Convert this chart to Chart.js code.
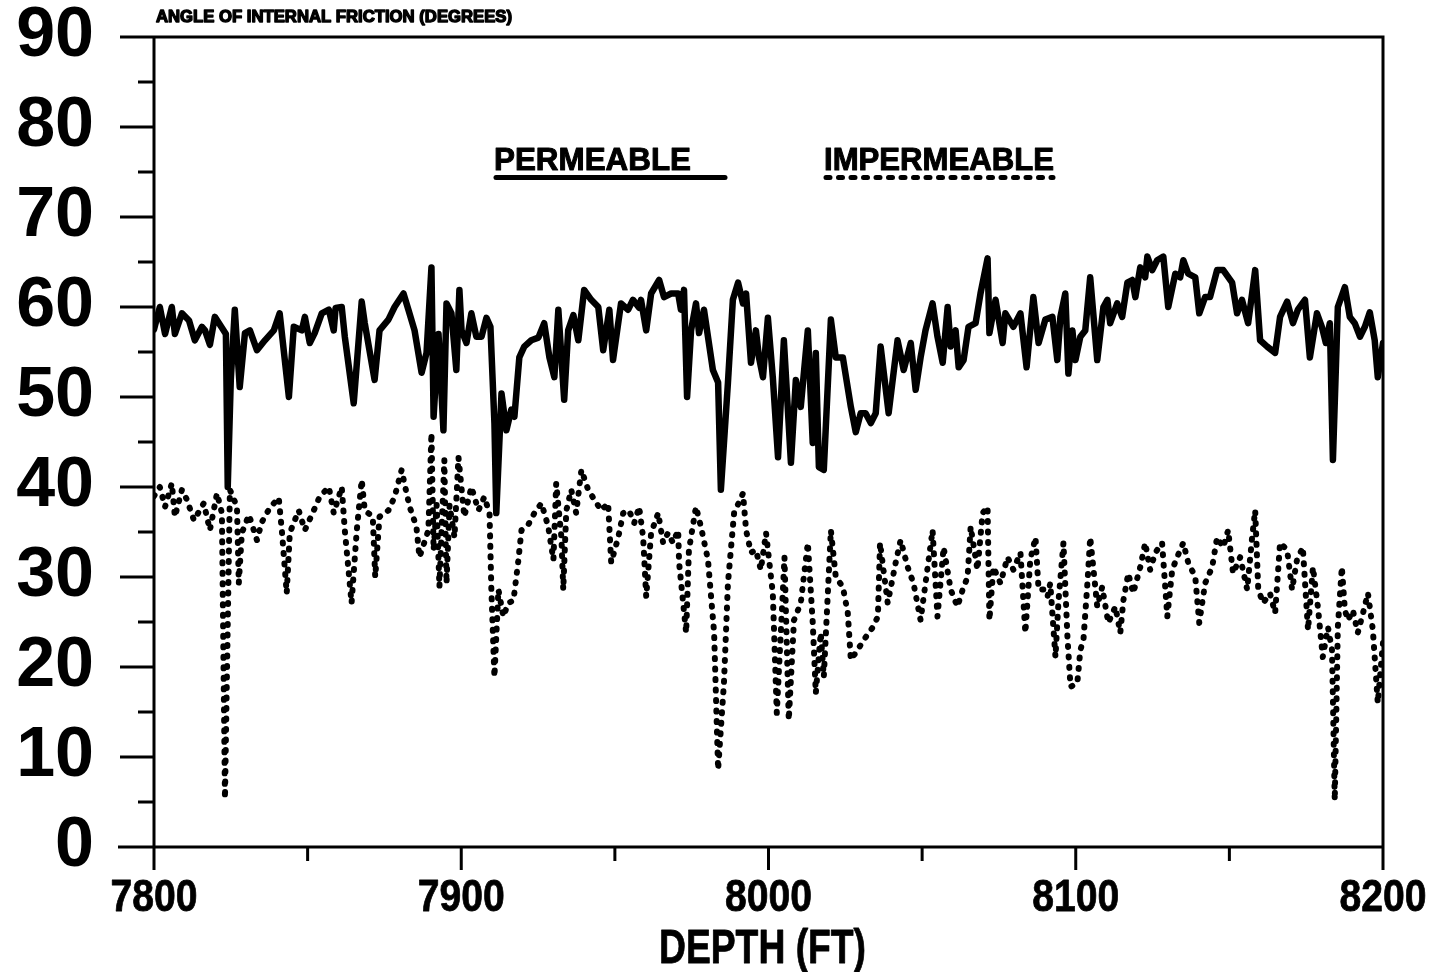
<!DOCTYPE html>
<html>
<head>
<meta charset="utf-8">
<title>Angle of internal friction vs depth</title>
<script src="https://cdn.jsdelivr.net/npm/chart.js@4.4.1/dist/chart.umd.min.js"></script>
<style>
  html, body { margin: 0; padding: 0; background: #fff; }
  #wrap { width: 1438px; height: 972px; }
</style>
</head>
<body>
<div id="wrap"><canvas id="c" width="1438" height="972"></canvas></div>
<script>
// Permeable log: depth (ft) and angle of internal friction (degrees)
const depthPerm = [7800,7801.9,7803.6,7805.8,7806.8,7809.1,7811.4,7813.3,7815.6,7816.6,
  7818.2,7819.8,7822.1,7823.4,7824.0,7825.0,7826.3,7827.9,7829.6,7831.2,
  7833.5,7836.1,7839.0,7840.9,7843.9,7845.5,7848.1,7849.1,7850.7,7852.3,
  7854.6,7856.9,7858.5,7859.1,7861.1,7862.1,7865.0,7867.6,7868.6,7871.8,
  7873.4,7876.3,7878.3,7881.2,7882.8,7884.8,7887.1,7888.7,7890.3,7891.0,
  7892.6,7894.2,7895.2,7896.8,7898.4,7899.4,7900.1,7901.7,7903.3,7904.9,
  7906.6,7908.2,7909.5,7910.8,7911.4,7913.1,7914.7,7916.3,7917.3,7918.9,
  7920.5,7922.8,7925.1,7927.0,7928.7,7930.3,7931.6,7933.5,7934.8,7936.5,
  7938.1,7940.0,7942.3,7944.6,7946.2,7948.2,7949.4,7952.0,7954.3,7955.9,
  7957.9,7958.5,7960.2,7961.8,7964.4,7966.0,7968.3,7970.6,7971.5,7972.5,
  7973.5,7974.8,7976.4,7977.4,7979.0,7981.9,7983.6,7984.5,7986.8,7988.4,
  7990.1,7991.7,7992.7,7994.3,7995.9,7996.9,7998.2,7999.8,8001.4,8003.1,
  8005.0,8007.3,8008.9,8010.5,8012.8,8014.4,8015.4,8016.4,8018.0,8020.3,
  8021.9,8024.2,8026.8,8028.4,8030.0,8031.6,8033.3,8034.9,8036.5,8039.1,
  8042.0,8044.0,8046.3,8047.9,8049.5,8051.1,8053.4,8055.0,8056.7,8058.3,
  8059.3,8060.9,8061.9,8063.5,8065.1,8067.4,8069.0,8071.3,8071.9,8073.9,
  8076.2,8077.1,8079.7,8082.0,8084.0,8086.2,8087.9,8090.1,8092.4,8094.0,
  8095.0,8096.6,8097.6,8098.9,8099.9,8101.5,8103.1,8104.7,8107.0,8109.0,
  8110.3,8111.2,8113.5,8115.1,8116.8,8118.4,8119.4,8121.0,8122.6,8123.3,
  8124.9,8126.5,8128.5,8130.1,8132.4,8134.0,8135.0,8136.6,8138.9,8140.2,
  8142.1,8143.7,8146.0,8148.0,8150.9,8152.5,8154.1,8156.1,8157.4,8158.4,
  8160.0,8162.3,8164.9,8166.5,8168.8,8170.7,8172.3,8174.6,8176.2,8178.5,
  8180.1,8181.4,8182.7,8183.7,8185.3,8187.6,8189.2,8190.8,8192.5,8194.1,
  8195.7,8197.3,8198.3,8200];
const anglePerm = [57.5,60,57,60,57,59.3,58.5,56.3,57.8,57.4,
  55.8,58.9,57.7,57,40,52,59.7,51.1,57.1,57.4,
  55.2,56.3,57.4,59.3,50,57.8,57.4,58.9,56,57.1,
  59.3,59.7,57.4,59.9,60,56.7,49.3,60.6,58.2,51.9,
  57.4,58.6,60,61.5,59.7,57.4,52.7,54.9,64.4,47.8,
  57,46.3,60.4,59.3,53,61.9,57.4,56,59.3,56.7,
  56.7,58.8,57.8,47.1,37.1,50.4,46.3,48.6,47.8,54.4,
  55.6,56.3,56.6,58.2,54.4,52.2,59.7,49.7,57.4,59.1,
  56.3,61.9,60.8,60,55.2,59.7,54.1,60.4,59.7,60.8,
  59.9,60.8,57.4,61.5,63,61.1,61.5,61.5,59.7,61.9,
  50,57.4,60.4,57.1,59.7,53,51.6,39.7,51.6,60.8,
  62.7,60.4,61.5,53.8,57.4,54.4,52.2,58.8,52.2,43.3,
  56.3,42.7,51.9,48.9,57.4,44.9,54.9,42.2,41.9,58.6,
  54.4,54.4,48.9,46.1,48.2,48.2,47.1,48.2,55.6,48.2,
  56.3,53,56,50.8,54.4,57.4,60.4,56.7,53.8,60,
  55.6,57.4,53.3,54.1,57.8,58.2,61.5,65.4,57.1,60.8,
  56,59.3,57.8,59.3,53.3,61.1,56,58.6,58.9,54.1,
  58.9,61.5,52.6,57.4,54.1,56.7,57.4,63.3,54.1,60,
  60.8,58.2,60.4,58.9,62.7,63,61.1,64.4,63.3,65.6,
  64.1,65.2,65.6,60,63.7,63.3,65.2,63.7,63.3,59.3,
  61.1,61.1,64.1,64.1,62.7,59.3,60.8,58.2,61.5,64.1,
  56.3,55.6,54.9,58.9,60.6,58.2,59.7,60.8,54.4,59.3,
  57.8,56,58.2,43,60,62.2,58.9,58.2,56.7,57.8,
  59.4,56.3,52.2,56];

// Impermeable log: depth (ft) and angle of internal friction (degrees)
const depthImperm = [7800,7801.9,7803.6,7805.8,7806.8,7809.1,7810.7,7813.0,7816.2,7818.2,
  7820.5,7822.1,7823.1,7824.7,7827.0,7827.6,7828.6,7830.9,7833.5,7835.1,
  7837.7,7840.6,7841.6,7843.2,7844.2,7847.1,7849.1,7852.0,7853.9,7856.9,
  7858.5,7861.1,7862.1,7864.3,7866.0,7867.6,7868.6,7871.2,7872.0,7873.4,
  7876.3,7878.3,7880.6,7881.5,7883.2,7885.4,7886.4,7889.3,7890.3,7891.0,
  7892.0,7892.9,7894.5,7895.2,7896.2,7897.8,7899.1,7901.0,7903.3,7905.6,
  7907.5,7909.2,7909.8,7910.8,7912.1,7913.7,7915.3,7917.0,7918.6,7919.6,
  7921.8,7923.8,7926.1,7928.3,7930.0,7930.9,7932.6,7933.2,7934.2,7935.8,
  7937.4,7939.1,7941.3,7943.3,7945.6,7947.8,7948.8,7951.1,7952.7,7954.6,
  7956.3,7957.9,7959.2,7960.2,7961.8,7964.1,7965.7,7967.3,7968.9,7970.6,
  7970.9,7973.2,7974.1,7976.4,7978.0,7980.3,7982.3,7983.6,7985.5,7986.8,
  7988.8,7991.7,7992.7,7994.3,7995.9,7997.5,7999.2,8001.4,8002.7,8004.7,
  8005.2,8006.6,8008.3,8010.5,8012.8,8014.4,8015.4,8017.0,8018.0,8020.3,
  8021.9,8024.2,8025.8,8026.8,8029.0,8031.0,8033.9,8035.6,8036.3,8038.8,
  8041.4,8043.0,8045.3,8047.2,8049.5,8051.1,8053.4,8055.0,8057.0,8059.3,
  8061.5,8063.2,8064.8,8065.8,8068.0,8069.7,8071.3,8071.9,8073.2,8075.5,
  8077.8,8079.7,8082.0,8083.6,8085.2,8086.9,8087.9,8089.5,8090.8,8091.7,
  8093.4,8094.4,8096.0,8097.3,8098.3,8100.5,8101.5,8102.5,8103.8,8104.7,
  8105.7,8107.0,8108.6,8110.6,8112.9,8114.5,8115.5,8117.1,8118.7,8121.0,
  8122.6,8124.2,8125.9,8128.1,8129.8,8131.4,8133.0,8135.0,8136.6,8138.9,
  8140.2,8142.1,8144.4,8146.0,8148.0,8149.6,8151.2,8153.5,8155.8,8157.4,
  8158.4,8159.4,8161.0,8163.2,8164.9,8166.5,8168.8,8170.4,8172.0,8173.9,
  8175.6,8177.2,8178.8,8180.4,8182.1,8183.4,8184.3,8185.3,8186.6,8187.6,
  8188.6,8190.2,8191.8,8193.5,8195.1,8196.7,8198.3,8200];
const angleImperm = [39,40,37.8,40.4,36.7,39.7,38.6,36.3,38.2,35.2,
  39.3,37.1,5.4,39.7,37.8,29.3,34.9,36.9,34.1,36.1,
  37.7,38.8,35.2,28.2,34.9,37.4,35.2,37.4,38.9,40,
  37.1,40,35.2,27.1,35.2,40.8,37.4,36.7,30,36.7,
  37.4,38.9,41.9,40.4,37.8,35.6,32.2,35.2,46,33,
  38,28.9,43,29.3,38,34.4,43.3,36.7,40,37.4,
  38.9,37.1,28.6,18.9,28.6,25.6,27.1,27.4,31.9,35.2,
  35.8,37.1,38.2,35.6,31.9,40.4,34.4,28.6,37.4,39.7,
  37.1,41.9,39.7,38.6,37.4,38.2,31.6,34.4,37.1,37.4,
  36,37.8,34.4,27.8,34.9,37.1,33.8,34.9,33.8,35.2,
  31.6,23.8,33,37.8,35.6,31.9,23.8,8.6,18.2,29.3,
  37.1,39.3,35.2,32.7,33,30.8,34.9,28.2,14.9,28.6,
  32.2,14.1,25.2,27.1,33.8,24.9,17.1,23.8,18.9,35.2,
  30,28.9,26,20.8,21.9,23,24.4,25.6,33.8,27.1,
  31.6,34.1,31.1,29.3,25.2,29.3,35.2,25.6,33.3,28.6,
  26.7,28.6,30,35.6,30.8,37.1,37.8,25.2,31.1,29.3,
  32.2,30.8,32.7,23.8,31.9,34.4,28.6,28.6,27.8,29.3,
  21.1,27.4,33.8,23.3,17.8,18.2,21.9,23,29.3,34.4,
  31.1,26.7,28.9,24.9,26.7,23.8,27.4,30.4,28.2,31.1,
  33.8,30.8,32.7,33.8,25.6,30.8,32.2,33.8,31.6,30,
  24.9,29.3,31.1,34.4,33.3,35.2,30.4,32.2,28.6,34.4,
  37.4,28.6,27.1,28.2,26,33.8,33,28.6,31.9,33.3,
  24.1,31.1,26.7,21.1,24.4,21.9,5.2,24.4,31.1,26.3,
  25.2,26.3,23.8,26,28.2,24.1,16,22.7];

// Axis labels and ticks
const seriesNames = ['PERMEABLE', 'IMPERMEABLE'];
const depthTicks = [7800, 7850, 7900, 7950, 8000, 8050, 8100, 8150, 8200];
const depthLabelled = [7800, 7900, 8000, 8100, 8200];
const angleTicks = [0, 5, 10, 15, 20, 25, 30, 35, 40, 45, 50, 55, 60, 65, 70, 75, 80, 85, 90];
const angleLabelled = [0, 10, 20, 30, 40, 50, 60, 70, 80, 90];
const chartTitle = 'ANGLE OF INTERNAL FRICTION (DEGREES)';
const xTitle = 'DEPTH (FT)';

const toPoints = (xs, ys) => xs.map((d, i) => ({ x: d, y: ys[i] }));

const SANS = '"Liberation Sans", Arial, Helvetica, sans-serif';

// Draws text condensed horizontally to a given width (narrow bold lettering).
function fitText(ctx, text, font, cx, baseline, width, align, heavy) {
  ctx.save();
  ctx.font = font;
  ctx.textAlign = 'left';
  ctx.textBaseline = 'alphabetic';
  const w = ctx.measureText(text).width;
  const left = align === 'center' ? cx - width / 2 : cx;
  ctx.translate(left, baseline);
  ctx.scale(width / w, 1);
  ctx.fillStyle = '#000';
  ctx.fillText(text, 0, 0);
  if (heavy) {
    ctx.strokeStyle = '#000';
    ctx.lineWidth = heavy;
    ctx.lineJoin = 'round';
    ctx.strokeText(text, 0, 0);
  }
  ctx.restore();
}

// Axis frame, tick marks, depth labels, heading and the in-plot key.
const framePlugin = {
  id: 'frame',
  afterDraw(chart) {
    const { ctx } = chart;
    const x = chart.scales.x, y = chart.scales.y;
    const L = x.left, R = x.right, T = y.top, B = y.bottom;
    ctx.save();
    ctx.strokeStyle = '#000';
    ctx.lineCap = 'butt';
    ctx.lineWidth = 3;
    ctx.beginPath();
    ctx.moveTo(L - 34, T); ctx.lineTo(R + 1.5, T);
    ctx.moveTo(L, T); ctx.lineTo(L, B + 23);
    ctx.moveTo(R, T); ctx.lineTo(R, B + 23);
    ctx.moveTo(L - 36, B); ctx.lineTo(R + 1.5, B);
    angleTicks.forEach(v => {
      const py = y.getPixelForValue(v);
      const len = angleLabelled.includes(v) ? 34 : 16;
      ctx.moveTo(L - len, py); ctx.lineTo(L, py);
    });
    depthTicks.forEach(v => {
      const px = x.getPixelForValue(v);
      const len = depthLabelled.includes(v) ? 23 : 14;
      ctx.moveTo(px, B); ctx.lineTo(px, B + len);
    });
    ctx.stroke();

    // depth labels in narrow bold lettering
    depthLabelled.forEach(v => {
      fitText(ctx, String(v), 'bold 45px ' + SANS, x.getPixelForValue(v), B + 64, 87, 'center', 0.8);
    });
    fitText(ctx, xTitle, 'bold 48px ' + SANS, (L + R) / 2 - 6, 963, 207, 'center', 0.8);

    // heading above the plot
    fitText(ctx, chartTitle, 'bold 17px ' + SANS, L + 2, 22, 356, 'left', 1.4);

    // key: label with a sample of each line style underneath
    const ds = chart.data.datasets;
    const keys = [
      { left: 494, right: 727, textW: 197 },
      { left: 824, right: 1055, textW: 230 }
    ];
    keys.forEach((k, i) => {
      fitText(ctx, seriesNames[i], 'bold 31px ' + SANS, k.left, 170, k.textW, 'left', 1);
      ctx.save();
      ctx.strokeStyle = '#000';
      ctx.lineWidth = 5;
      ctx.lineCap = 'round';
      ctx.setLineDash(i === 0 ? [] : [4, 8.5]);
      ctx.beginPath();
      ctx.moveTo(k.left + 2, 177.5);
      ctx.lineTo(k.right - 2, 177.5);
      ctx.stroke();
      ctx.restore();
    });
    ctx.restore();
  }
};

new Chart(document.getElementById('c'), {
  type: 'line',
  data: {
    datasets: [
      {
        label: seriesNames[0],
        data: toPoints(depthPerm, anglePerm),
        borderColor: '#000',
        borderWidth: 6.5,
        borderJoinStyle: 'round',
        borderCapStyle: 'round',
        pointRadius: 0,
        tension: 0,
        fill: false
      },
      {
        label: seriesNames[1],
        data: toPoints(depthImperm, angleImperm),
        borderColor: '#000',
        borderWidth: 6,
        borderDash: [1, 9.5],
        borderCapStyle: 'round',
        borderJoinStyle: 'round',
        pointRadius: 0,
        tension: 0,
        fill: false
      }
    ]
  },
  options: {
    responsive: false,
    animation: false,
    devicePixelRatio: 1,
    layout: { padding: { top: 37, right: 55, left: 0, bottom: 0 } },
    plugins: { legend: { display: false }, tooltip: { enabled: false }, title: { display: false } },
    scales: {
      x: {
        type: 'linear',
        min: 7800,
        max: 8200,
        afterBuildTicks: s => { s.ticks = depthLabelled.map(v => ({ value: v })); },
        afterFit: s => { s.height = 125; s.paddingLeft = 0; s.paddingRight = 0; },
        grid: { display: false, drawTicks: false },
        border: { display: false },
        ticks: { display: false },
        title: { display: false }
      },
      y: {
        type: 'linear',
        min: 0,
        max: 90,
        afterBuildTicks: s => { s.ticks = angleLabelled.map(v => ({ value: v })); },
        afterFit: s => { s.width = 154; s.paddingTop = 0; s.paddingBottom = 0; },
        grid: { display: false, drawTicks: false },
        border: { display: false },
        ticks: {
          color: '#000',
          padding: 60,
          callback: v => String(v),
          font: { family: SANS, size: 70, weight: 'bold' }
        }
      }
    }
  },
  plugins: [framePlugin]
});
</script>
</body>
</html>
